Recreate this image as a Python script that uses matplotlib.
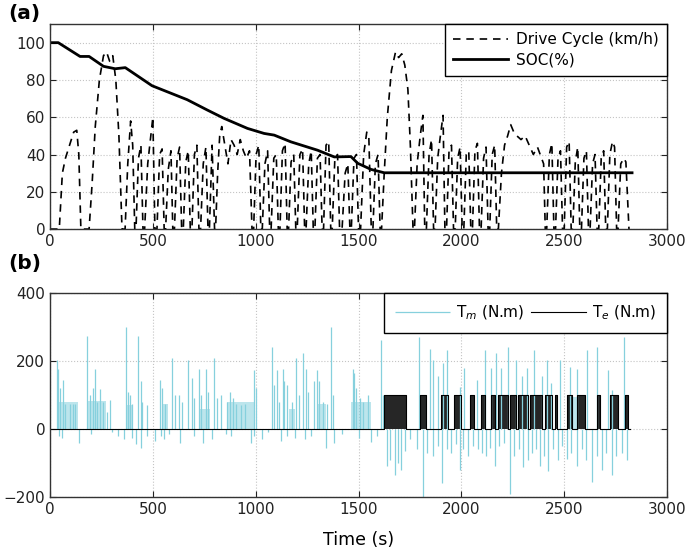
import numpy as np
import matplotlib
matplotlib.use("Agg")
import matplotlib.pyplot as plt

plt.rcParams['font.family'] = ['DejaVu Sans']

# ---- (a) drive cycle knots (s, km/h)
dc_t = [0, 45, 60, 75, 95, 115, 130, 140, 150,
        190, 205, 220, 240, 260, 275, 290, 305, 320, 335, 350,
        365, 378, 392, 402, 412, 418, 430, 442, 452, 460, 475, 490, 500, 510,
        520, 533, 545, 555, 562, 575, 588, 597, 605, 618, 630, 640,
        648, 660, 672, 682, 690, 702, 714, 724, 732, 745, 758, 768, 775, 788, 800,
        805, 815, 825, 835, 850, 865, 880, 895, 910, 925, 940, 955, 970, 982,
        990, 1002, 1015, 1025, 1032, 1045, 1058, 1068, 1075, 1088, 1100, 1110,
        1118, 1130, 1143, 1153, 1160, 1172, 1185, 1195, 1202, 1215, 1228, 1238,
        1245, 1258, 1270, 1280, 1288, 1300, 1313, 1323, 1330, 1342, 1355, 1365,
        1372, 1385, 1398, 1408,
        1420, 1435, 1448, 1458, 1465, 1478, 1490, 1500, 1510, 1525, 1540, 1550, 1562,
        1570, 1582, 1595, 1605,
        1612, 1625, 1640, 1660, 1680, 1695, 1710, 1725, 1740, 1752, 1765,
        1772, 1785, 1800, 1813, 1822, 1830, 1843, 1855, 1865,
        1872, 1885, 1898, 1911, 1920, 1928, 1940, 1952, 1962,
        1970, 1982, 1994, 2004, 2012, 2024, 2036, 2046, 2054, 2066, 2078, 2088,
        2096, 2108, 2120, 2130, 2138, 2150, 2162, 2172,
        2180, 2195, 2210, 2225, 2240, 2255, 2270, 2290, 2310, 2330, 2350, 2370, 2390, 2400, 2408,
        2415, 2428, 2440, 2450, 2458, 2470, 2482, 2492, 2500, 2512, 2524, 2534,
        2542, 2554, 2566, 2576, 2584, 2596, 2608, 2618, 2626, 2638, 2650, 2660,
        2668, 2680, 2692, 2702, 2710, 2722, 2735, 2745, 2755, 2762, 2775, 2790, 2800, 2815]
dc_v = [0, 0, 30, 38, 45, 52, 53, 40, 0,
        0, 25, 55, 80, 93, 95, 90, 93, 80, 50, 0,
        0, 35, 58, 45, 0, 0, 38, 45, 0, 0, 35, 50, 60, 0,
        0, 40, 43, 0, 0, 32, 42, 0, 0, 38, 44, 0,
        0, 36, 42, 0, 0, 40, 45, 0, 0, 35, 44, 0, 0, 45, 0,
        0, 30, 50, 55, 45, 35, 48, 45, 40, 48, 42, 38, 42, 0,
        0, 40, 45, 0, 0, 35, 42, 0, 0, 38, 40, 0,
        0, 42, 46, 0, 0, 36, 40, 0, 0, 40, 43, 0,
        0, 35, 42, 0, 0, 38, 40, 0, 0, 45, 47, 0,
        0, 38, 40, 0,
        0, 30, 35, 0, 0, 38, 40, 0, 0, 40, 52, 50, 0,
        0, 35, 40, 0,
        0, 30, 60, 85, 95, 92, 94, 88, 75, 45, 0,
        0, 35, 50, 61, 0, 0, 40, 48, 0,
        0, 38, 50, 61, 0, 0, 42, 45, 0,
        0, 38, 44, 0, 0, 40, 42, 0, 0, 42, 46, 0,
        0, 38, 44, 0, 0, 40, 45, 0,
        0, 30, 45, 50, 56, 52, 50, 48, 50, 45, 40, 44, 38, 35, 0,
        0, 40, 46, 0, 0, 38, 42, 0, 0, 44, 47, 0,
        0, 36, 44, 0, 0, 38, 42, 0, 0, 35, 40, 0,
        0, 38, 42, 0, 0, 40, 47, 44, 0, 0, 35, 38, 36, 0]

soc_t = [0, 40, 146, 190, 260, 317, 366, 496, 667, 764, 846, 960, 1041, 1090,
         1171, 1301, 1382, 1463, 1496, 1561, 1625, 2830]
soc_v = [100, 100, 92.6, 92.6, 87.3, 86, 86.6, 76.9, 69.4, 63.9, 59.4, 54, 51.3,
         50.4, 46.8, 42.3, 38.7, 38.9, 35.3, 32, 30.2, 30.2]

# ---- (b) motor torque spikes (s, N.m)
tm_t = [33, 40, 65, 182, 220, 244, 290, 371, 380, 428, 440, 537, 594, 626, 672,
        690, 723, 759, 797, 829, 875, 992, 1081, 1106, 1135, 1150, 1195, 1228,
        1244, 1285, 1297, 1366, 1471, 1480, 1610,
        50, 75, 95, 110, 120, 195, 210, 230, 260, 275, 390, 400, 445, 470, 545,
        560, 610, 640, 700, 735, 770, 810, 860, 890, 905, 930, 950, 1000, 1090,
        1115, 1140, 1175, 1210, 1255, 1310, 1325, 1345, 1375, 1490, 1505, 1520,
        1545, 1620,
        1792, 1846, 1860, 1888, 1911, 1932, 1995, 2011, 2076, 2114, 2146, 2167,
        2195, 2228, 2268, 2293, 2317, 2355, 2390, 2415, 2435, 2480, 2528, 2561,
        2610, 2659, 2715, 2732, 2793,
        45, 60, 140, 200, 300, 330, 360, 400, 420, 440, 470, 510, 540, 555, 580,
        630, 700, 745, 790, 855, 880, 975, 990, 1030, 1060, 1125, 1150, 1190,
        1240, 1270, 1340, 1380, 1420, 1500, 1560, 1590,
        1640, 1655, 1675, 1690, 1705, 1725, 1750, 1785, 1813, 1835, 1862, 1885,
        1907, 1930, 1950, 1975, 1992, 2010, 2032, 2055, 2080, 2100, 2122, 2140,
        2163, 2185, 2205, 2236, 2255, 2280, 2301, 2325, 2345, 2365, 2382, 2400,
        2423, 2445, 2470, 2490, 2512, 2535, 2561, 2585, 2605, 2634, 2660, 2683,
        2705, 2732, 2752, 2780, 2805]
tm_v = [203, 178, 144, 273, 178, 117, 85, 299, 110, 273, 140, 144, 208, 100, 203,
        150, 178, 178, 208, 100, 110, 174, 242, 174, 178, 130, 208, 223,
        178, 140, 174, 301, 178, 165, 262,
        120, 75, 75, 75, 75, 100, 120, 80, 80, 50, 100, 75, 80, 70, 120,
        75, 100, 80, 90, 100, 110, 90, 80, 90, 75, 70, 75, 120, 130,
        80, 140, 80, 100, 110, 140, 80, 75, 100, 120, 90, 80,
        100, 100,
        270, 237, 203, 155, 194, 233, 125, 180, 145, 233, 180, 223,
        180, 242, 203, 155, 180, 233, 155, 203, 135, 203, 184, 178,
        233, 242, 174, 115, 272,
        -20, -25, -42, -15, -10, -20, -30, -25, -45, -55, -20, -35, -20, -30, -15,
        -40, -20, -40, -30, -15, -20, -40, -20, -30, -10, -35, -20, -25,
        -30, -20, -55, -40, -15, -25, -37, -20,
        -110, -90, -135, -100, -120, -65, -30, -60, -200, -70, -80, -50,
        -160, -60, -70, -45, -120, -60, -80, -50, -60, -70, -80, -55,
        -110, -50, -40, -190, -80, -60, -113, -90, -70, -60, -110, -80,
        -123, -60, -90, -50, -88, -70, -110, -60, -90, -155, -80, -120,
        -70, -135, -80, -70, -90]

# level blocks of the motor torque
tm_blk_start = [35, 186, 375, 545, 725, 862, 1160, 1300, 1465, 2520]
tm_blk_end = [136, 274, 400, 575, 780, 992, 1190, 1340, 1561, 2560]
tm_blk_level = [80, 82, 70, 75, 60, 80, 60, 75, 80, 95]

# engine on intervals (Te = 100 N.m)
te_start = [1626, 1797, 1902, 1964, 2041, 2094, 2146, 2179, 2236, 2276, 2333,
            2406, 2455, 2512, 2561, 2659, 2724, 2794]
te_end = [1732, 1830, 1935, 2000, 2062, 2117, 2166, 2228, 2268, 2325, 2390,
          2439, 2463, 2537, 2602, 2675, 2761, 2810]
te_level = 100
t_end = 2820

blue = '#86d0dd'
grid_kw = dict(color='#c4c4c4', linestyle=':', linewidth=0.8)

fig = plt.figure(figsize=(6.89, 5.52), dpi=100)
ax1 = fig.add_axes([0.0726, 0.585, 0.8955, 0.3715])
ax2 = fig.add_axes([0.0726, 0.0996, 0.8955, 0.3694])

ax1.plot(dc_t, dc_v, color='black', lw=1.2, linestyle=(0, (4.5, 3.5)),
         label='Drive Cycle (km/h)')
ax1.plot(soc_t, soc_v, color='black', lw=2.0, label='SOC(%)')
ax1.set_xlim(0, 3000)
ax1.set_ylim(0, 110)
ax1.set_yticks([0, 20, 40, 60, 80, 100])
ax1.set_xticks([0, 500, 1000, 1500, 2000, 2500, 3000])
leg1 = ax1.legend(loc='upper right', borderaxespad=0, fancybox=False,
                  framealpha=1, edgecolor='black', handlelength=3.6,
                  fontsize=11, borderpad=0.55, labelspacing=0.35,
                  handletextpad=0.5)
leg1.get_frame().set_linewidth(1.0)

ax2.bar(tm_blk_start, tm_blk_level,
        width=np.array(tm_blk_end) - np.array(tm_blk_start),
        align='edge', color=blue, alpha=0.55, linewidth=0)
ax2.vlines(tm_t, 0, tm_v, colors=blue, lw=0.9, label='T$_m$ (N.m)')

te_x = [0]
te_y = [0]
for s, e in zip(te_start, te_end):
    te_x += [s, s, e, e]
    te_y += [0, te_level, te_level, 0]
te_x.append(t_end)
te_y.append(0)
ax2.fill_between(te_x, te_y, color='black', alpha=0.85, linewidth=0)
ax2.plot(te_x, te_y, color='black', lw=0.8, label='T$_e$ (N.m)')
ax2.set_xlim(0, 3000)
ax2.set_ylim(-200, 400)
ax2.set_yticks([-200, 0, 200, 400])
ax2.set_xticks([0, 500, 1000, 1500, 2000, 2500, 3000])
ax2.set_xlabel('Time (s)', fontsize=12.5, labelpad=10)
leg2 = ax2.legend(loc='upper right', ncol=2, borderaxespad=0, fancybox=False,
                  framealpha=1, edgecolor='black', handlelength=3.6,
                  fontsize=11, columnspacing=0.5, borderpad=0.7,
                  handletextpad=0.4)
leg2.get_frame().set_linewidth(1.0)

for ax in (ax1, ax2):
    ax.grid(True, **grid_kw)
    ax.set_axisbelow(True)
    ax.tick_params(direction='in', top=True, right=True, labelsize=11,
                   colors='#222222', length=4)
    for sp in ax.spines.values():
        sp.set_color('#333333')
        sp.set_linewidth(1.0)

fig.text(0.012, 0.975, '(a)', fontsize=14.5, fontweight='bold', va='center')
fig.text(0.012, 0.522, '(b)', fontsize=14.5, fontweight='bold', va='center')

fig.savefig('out.png', dpi=100)
